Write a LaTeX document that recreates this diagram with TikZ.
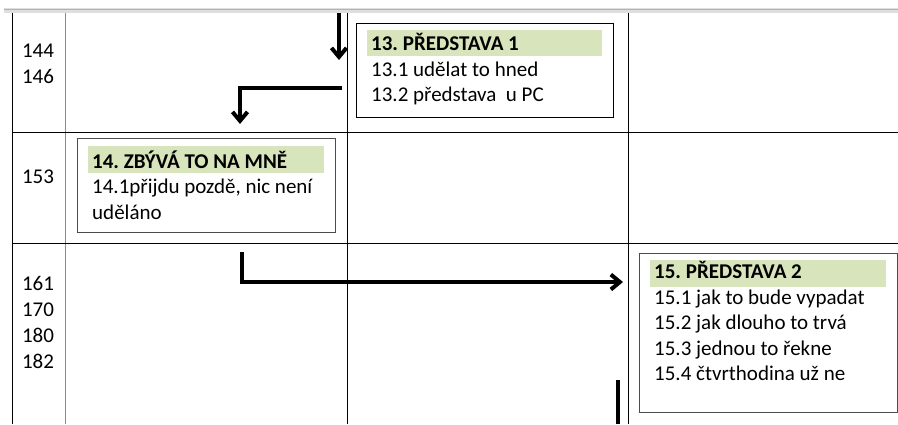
\documentclass[tikz,border=0pt]{standalone}
\usepackage{fontspec}
\setmainfont{Carlito}
\frenchspacing
\usetikzlibrary{arrows.meta,positioning}
\definecolor{headgreen}{RGB}{216,228,188}
\definecolor{gridgrey}{RGB}{140,140,140}

\begin{document}
\begin{tikzpicture}[x=1pt,y=-1pt,
    txt/.style={anchor=base west, inner sep=0pt, font=\fontsize{21}{25.5}\selectfont},
    headtxt/.style={anchor=base west, inner sep=0pt, font=\fontsize{21}{25.5}\selectfont\bfseries},
    num/.style={anchor=base, inner sep=0pt, font=\fontsize{21}{25.5}\selectfont},
    frame/.style={draw, line width=1.2pt, anchor=north west, inner sep=0pt},
    head/.style={fill=headgreen, anchor=north west, inner sep=0pt},
    flow/.style={line width=4pt, -{Straight Barb[length=9pt,width=15pt]}}
]
\useasboundingbox (0,0) rectangle (898,424);
% top bar
\fill[gray!25] (4,8) rectangle (898,13);
\draw[gray!60, line width=1.5pt] (4,9.5) -- (898,9.5);
% table
\draw[line width=1pt] (12,13) -- (12,424);
\draw[gridgrey, line width=1pt] (65,13) -- (65,424);
\draw[line width=1pt] (347,13) -- (347,424);
\draw[line width=1pt] (628,13) -- (628,424);
\draw[line width=1pt] (12,132) -- (898,132);
\draw[line width=1pt] (12,243) -- (898,243);

% row numbers
\node[num] (r144) at (38,57) {144};
\node[num] (r146) at (38,83) {146};
\node[num] (r153) at (38,183) {153};
\node[num] (r161) at (38,290) {161};
\node[num] (r170) at (38,316) {170};
\node[num] (r180) at (38,342) {180};
\node[num] (r182) at (38,368) {182};

% box 13
\node[frame, minimum width=257pt, minimum height=94pt] (b13) at (356,23) {};
\node[head, minimum width=235pt, minimum height=26pt] (h13) at (367,30) {};
\node[headtxt] (t13) at (371,50.5) {13. PŘEDSTAVA 1};
\node[txt] (t131) at (371,76) {13.1 udělat to hned};
\node[txt] (t132) at (371,101.5) {13.2 představa \ u PC};

% box 14
\node[frame, draw=black!70, minimum width=258pt, minimum height=94pt] (b14) at (77,138) {};
\node[head, minimum width=236pt, minimum height=27pt] (h14) at (88,146) {};
\node[headtxt] (t14) at (92,168) {14. ZBÝVÁ TO NA MNĚ};
\node[txt] (t141) at (92,193.5) {14.1přijdu pozdě, nic není};
\node[txt] (t142) at (92,219) {uděláno};

% box 15
\node[frame, draw=black!70, minimum width=258pt, minimum height=159pt] (b15) at (639,253) {};
\node[head, minimum width=236pt, minimum height=27pt] (h15) at (650,260) {};
\node[headtxt] (t15) at (654,278.5) {15. PŘEDSTAVA 2};
\node[txt] (t151) at (654,304) {15.1 jak to bude vypadat};
\node[txt] (t152) at (654,329.5) {15.2 jak dlouho to trvá};
\node[txt] (t153) at (654,355) {15.3 jednou to řekne};
\node[txt] (t154) at (654,380.5) {15.4 čtvrthodina už ne};

% connectors
\coordinate (in13) at (339,13);
\coordinate (to13) at (339,60);
\coordinate (out13) at (342,88);
\coordinate (to14) at (240,124);
\coordinate (out14) at (242,252);
\coordinate (to15) at (623,282);
\coordinate (out15) at (618,380);
\coordinate (down15) at (618,424);
\draw[flow] (in13) -- (to13);
\draw[flow] (out13) -| (to14);
\draw[flow] (out14) |- (to15);
\draw[line width=4pt] (out15) -- (down15);
\end{tikzpicture}
\end{document}
